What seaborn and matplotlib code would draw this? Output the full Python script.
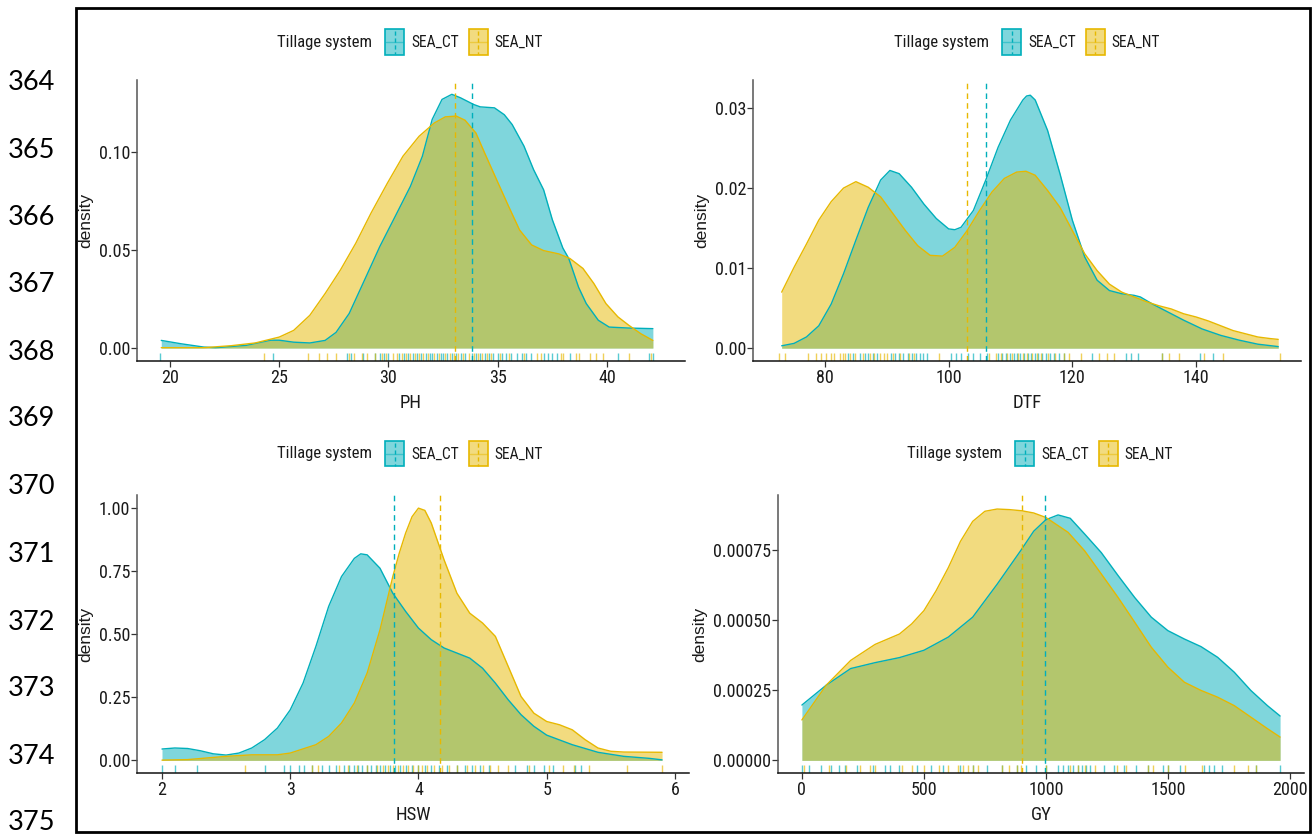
import numpy as np
import pandas as pd
import matplotlib
matplotlib.use("Agg")
import matplotlib.pyplot as plt
import seaborn as sns
from matplotlib.patches import Rectangle
from matplotlib.lines import Line2D
from matplotlib import font_manager as fm

# ------------------------------------------------------------------ data
GROUPS = ["SEA_CT", "SEA_NT"]
LEGEND_TITLE = "Tillage system"
LINE_NUMBERS = ["364", "365", "366", "367", "368", "369", "370", "371", "372", "373", "374", "375"]

# PH
PH_X_CT = [19.6, 20.5, 21.55, 22.1, 23.5, 24.6, 25.0, 25.66, 26.4, 27.1, 27.6, 28.2, 28.9, 29.6, 30.3, 31.0,
           31.55, 32.0, 32.45, 32.9, 33.3, 33.9, 34.2, 34.85, 35.3, 35.66, 36.2, 36.64, 37.1, 37.5, 37.98,
           38.25, 38.7, 39.05, 39.6, 40.1, 41.0, 42.1]
PH_Y_CT = [0.0039, 0.0022, 0.0005, 0.0002, 0.0014, 0.0040, 0.0040, 0.0030, 0.0026, 0.0039, 0.0080, 0.0176,
           0.0346, 0.0517, 0.0670, 0.0824, 0.0978, 0.1166, 0.1268, 0.1294, 0.1276, 0.1242, 0.1230, 0.1225,
           0.1190, 0.1140, 0.1030, 0.0910, 0.0807, 0.0654, 0.0510, 0.0457, 0.0310, 0.0227, 0.0142, 0.0107,
           0.0102, 0.0099]
PH_X_NT = [19.6, 21.55, 22.8, 23.9, 25.0, 25.66, 26.4, 27.1, 27.8, 28.5, 29.2, 29.95, 30.66, 31.4, 32.1,
           32.6, 33.1, 33.5, 34.0, 34.4, 34.95, 35.5, 36.0, 36.55, 37.1, 37.8, 38.3, 38.9, 39.4, 39.95, 40.5,
           41.0, 41.55, 42.1]
PH_Y_NT = [0.0002, 0.0002, 0.0012, 0.0026, 0.0056, 0.0090, 0.0167, 0.0278, 0.0398, 0.0534, 0.0688, 0.0841,
           0.0978, 0.1080, 0.1148, 0.1179, 0.1183, 0.1162, 0.1097, 0.0995, 0.0858, 0.0722, 0.0602, 0.0526,
           0.0497, 0.0480, 0.0457, 0.0406, 0.0329, 0.0227, 0.0159, 0.0116, 0.0073, 0.0039]
PH_MEAN = [33.82, 33.04]
PH_RUG_CT = [19.55, 24.7, 28.1, 28.3, 28.85, 29.4, 29.6, 29.8, 30.0, 30.5, 30.7, 30.9, 31.1, 31.3, 31.5, 31.7,
             31.9, 32.0, 32.2, 32.4, 32.5, 32.7, 32.9, 33.1, 33.3, 33.5, 33.8, 34.0, 34.2, 34.4, 34.6, 34.8,
             35.0, 35.2, 35.4, 35.6, 35.9, 36.1, 36.3, 36.5, 37.1, 37.3, 37.5, 37.7, 38.3, 40.5, 41.9, 42.1]
PH_RUG_NT = [24.3, 26.3, 26.8, 27.2, 27.6, 28.2, 28.4, 28.8, 29.0, 29.4, 29.7, 29.9, 30.2, 30.4, 30.6, 30.8,
             31.0, 31.2, 31.4, 31.6, 31.8, 32.1, 32.3, 32.6, 32.8, 33.0, 33.2, 33.4, 33.7, 33.9, 34.1, 34.3,
             34.5, 34.7, 35.1, 35.5, 36.2, 36.8, 37.0, 37.9, 38.0, 38.6, 38.7, 39.2, 39.5, 39.8, 41.0, 42.0]
PH_XTICKS = [20, 25, 30, 35, 40]
PH_YTICKS = [0.00, 0.05, 0.10]
PH_YTICKLABELS = ["0.00", "0.05", "0.10"]

# DTF
DTF_X_CT = [73, 75, 77, 79, 81, 83, 85, 87, 89, 90.5, 92, 94, 96, 98, 100, 101, 102, 104, 106, 108, 110, 112,
            112.6, 113.2, 114, 116, 118, 120, 122, 124, 126, 128, 130, 131, 133, 135, 138, 141, 144, 147, 150,
            153.3]
DTF_Y_CT = [0.0003, 0.0006, 0.0014, 0.0028, 0.0055, 0.0093, 0.0135, 0.0176, 0.0210, 0.0222, 0.0218, 0.0201,
            0.0180, 0.0162, 0.0149, 0.0148, 0.0151, 0.0172, 0.0210, 0.0251, 0.0285, 0.0310, 0.0315, 0.0316,
            0.0310, 0.0272, 0.0218, 0.0160, 0.0114, 0.0085, 0.0072, 0.0068, 0.0066, 0.0064, 0.0055, 0.0047,
            0.0035, 0.0024, 0.0016, 0.0010, 0.0005, 0.0002]
DTF_X_NT = [73, 75, 77, 79, 81, 83, 85, 87, 89, 91, 93, 95, 97, 99, 101, 103, 105, 107, 109, 111, 112.5, 114,
            116, 118, 120, 122, 124, 126, 128, 130, 132, 134, 136, 138, 140, 142, 144, 146, 148, 150, 152,
            153.3]
DTF_Y_NT = [0.0070, 0.0101, 0.0130, 0.0160, 0.0183, 0.0200, 0.0208, 0.0201, 0.0189, 0.0168, 0.0147, 0.0128,
            0.0116, 0.0115, 0.0126, 0.0147, 0.0172, 0.0195, 0.0212, 0.0220, 0.0221, 0.0216, 0.0197, 0.0176,
            0.0147, 0.0118, 0.0097, 0.0080, 0.0070, 0.0064, 0.0058, 0.0053, 0.0049, 0.0043, 0.0039, 0.0034,
            0.0028, 0.0022, 0.0018, 0.0014, 0.0012, 0.0011]
DTF_MEAN = [106.1, 102.9]
DTF_RUG_CT = [83.7, 84.5, 85.6, 86.4, 87.0, 87.8, 88.4, 90.6, 91.3, 92.0, 92.6, 93.4, 94.0, 94.8, 95.3, 95.8,
              96.5, 100.4, 101.2, 102.0, 103.2, 104.0, 105.1, 106.2, 108.0, 108.6, 109.3, 109.9, 110.5, 111.0,
              111.6, 112.2, 112.8, 113.3, 113.9, 114.5, 115.1, 115.8, 116.4, 117.0, 117.8, 118.6, 123.2, 128.7,
              129.5, 130.6, 134.5, 140.6, 142.7]
DTF_RUG_NT = [72.5, 73.6, 77.3, 78.5, 79.3, 80.2, 81.0, 81.5, 82.4, 82.9, 83.3, 84.0, 84.8, 86.2, 87.3, 88.0,
              88.9, 89.5, 90.0, 91.0, 92.2, 93.6, 94.4, 98.5, 106.5, 107.6, 108.4, 109.5, 110.3, 111.2, 112.0,
              112.6, 113.5, 114.3, 115.0, 116.0, 117.2, 118.6, 119.5, 121.4, 124.3, 125.6, 126.8, 134.5, 135.6,
              137.3, 141.3, 144.3, 153.6]
DTF_XTICKS = [80, 100, 120, 140]
DTF_YTICKS = [0.00, 0.01, 0.02, 0.03]
DTF_YTICKLABELS = ["0.00", "0.01", "0.02", "0.03"]

# HSW
HSW_X_CT = [2.0, 2.1, 2.2, 2.3, 2.4, 2.5, 2.6, 2.7, 2.8, 2.9, 3.0, 3.1, 3.2, 3.3, 3.4, 3.5, 3.55, 3.6, 3.7, 3.8,
            3.9, 4.0, 4.1, 4.2, 4.3, 4.4, 4.5, 4.6, 4.7, 4.8, 4.9, 5.0, 5.2, 5.4, 5.6, 5.8, 5.9]
HSW_Y_CT = [0.045, 0.049, 0.047, 0.038, 0.026, 0.021, 0.029, 0.049, 0.082, 0.128, 0.200, 0.306, 0.451, 0.610,
            0.728, 0.800, 0.818, 0.814, 0.761, 0.662, 0.590, 0.524, 0.478, 0.445, 0.425, 0.405, 0.365, 0.306,
            0.240, 0.181, 0.135, 0.100, 0.062, 0.032, 0.016, 0.008, 0.002]
HSW_X_NT = [2.0, 2.2, 2.5, 2.7, 2.9, 3.0, 3.2, 3.3, 3.4, 3.5, 3.6, 3.7, 3.8, 3.85, 3.9, 3.95, 4.0, 4.05, 4.1,
            4.2, 4.3, 4.4, 4.5, 4.6, 4.7, 4.8, 4.9, 5.0, 5.1, 5.2, 5.3, 5.4, 5.5, 5.6, 5.9]
HSW_Y_NT = [0.001, 0.003, 0.016, 0.022, 0.022, 0.029, 0.062, 0.095, 0.148, 0.227, 0.346, 0.517, 0.728, 0.820,
            0.900, 0.965, 0.999, 0.990, 0.940, 0.794, 0.662, 0.583, 0.544, 0.491, 0.372, 0.253, 0.187, 0.154,
            0.141, 0.121, 0.082, 0.049, 0.036, 0.033, 0.032]
HSW_MEAN = [3.81, 4.17]
HSW_RUG_CT = [2.0, 2.1, 2.27, 2.8, 2.95, 3.0, 3.07, 3.11, 3.17, 3.25, 3.3, 3.36, 3.42, 3.46, 3.5, 3.53, 3.56,
              3.6, 3.63, 3.67, 3.7, 3.74, 3.78, 3.82, 3.86, 3.9, 3.95, 4.0, 4.05, 4.1, 4.16, 4.22, 4.3, 4.36,
              4.42, 4.48, 4.55, 4.75, 4.85, 4.9, 4.98, 5.05, 5.22, 5.27]
HSW_RUG_NT = [2.65, 3.17, 3.22, 3.38, 3.45, 3.52, 3.6, 3.68, 3.72, 3.76, 3.8, 3.84, 3.88, 3.92, 3.96, 4.0,
              4.03, 4.07, 4.12, 4.18, 4.24, 4.3, 4.38, 4.44, 4.5, 4.56, 4.62, 4.7, 4.86, 5.02, 5.13, 5.21,
              5.33, 5.63, 5.9]
HSW_XTICKS = [2, 3, 4, 5, 6]
HSW_YTICKS = [0.00, 0.25, 0.50, 0.75, 1.00]
HSW_YTICKLABELS = ["0.00", "0.25", "0.50", "0.75", "1.00"]

# GY
GY_X_CT = [0, 100, 200, 300, 400, 500, 600, 700, 800, 900, 950, 1000, 1050, 1100, 1159, 1227, 1296, 1364,
           1432, 1500, 1568, 1636, 1704, 1772, 1840, 1908, 1960]
GY_Y_CT = [0.000197, 0.000268, 0.000327, 0.000348, 0.000366, 0.000392, 0.000439, 0.000510, 0.000627,
           0.000751, 0.000816, 0.000857, 0.000874, 0.000862, 0.000806, 0.000740, 0.000658, 0.000580,
           0.000510, 0.000462, 0.000432, 0.000405, 0.000367, 0.000314, 0.000249, 0.000195, 0.000158]
GY_X_NT = [0, 100, 200, 300, 400, 450, 500, 550, 600, 650, 700, 750, 800, 850, 900, 950, 1000, 1091, 1159,
           1227, 1296, 1364, 1432, 1500, 1568, 1636, 1704, 1772, 1840, 1908, 1960]
GY_Y_NT = [0.000144, 0.000268, 0.000356, 0.000413, 0.000450, 0.000486, 0.000533, 0.000604, 0.000686,
           0.000780, 0.000851, 0.000887, 0.000895, 0.000893, 0.000889, 0.000881, 0.000865, 0.000812,
           0.000746, 0.000664, 0.000580, 0.000492, 0.000403, 0.000332, 0.000278, 0.000249, 0.000225,
           0.000195, 0.000154, 0.000113, 0.000083]
GY_MEAN = [995, 903]
GY_RUG_CT = [0, 30, 80, 120, 150, 175, 225, 290, 340, 360, 400, 470, 530, 580, 650, 700, 760, 820, 880, 920,
             960, 1000, 1050, 1070, 1090, 1110, 1130, 1150, 1165, 1180, 1240, 1280, 1320, 1370, 1420, 1480,
             1500, 1550, 1650, 1670, 1690, 1720, 1860, 1960]
GY_RUG_NT = [10, 110, 180, 240, 280, 300, 410, 450, 500, 560, 600, 640, 660, 680, 700, 720, 820, 850, 880,
             900, 1000, 1100, 1130, 1160, 1200, 1290, 1330, 1420, 1440, 1500, 1570, 1640, 1770, 1830, 1860]
GY_XTICKS = [0, 500, 1000, 1500, 2000]
GY_YTICKS = [0.0, 0.00025, 0.00050, 0.00075]
GY_YTICKLABELS = ["0.00000", "0.00025", "0.00050", "0.00075"]

# ------------------------------------------------------------------ style
CT_COL = "#00AFBB"
NT_COL = "#E7B800"
COLORS = [CT_COL, NT_COL]

sns.set_theme(style="white")
plt.rcParams["font.family"] = ["Liberation Sans", "DejaVu Sans"]


def find_narrow_font():
    entries = fm.fontManager.ttflist
    for name in ["Liberation Sans Narrow", "Arial Narrow", "Roboto Condensed", "Open Sans Condensed",
                 "Noto Sans Condensed", "DejaVu Sans Condensed"]:
        for e in entries:
            if e.name == name and e.style == "normal" and str(e.weight) in ("400", "normal", "regular", "book"):
                return e.fname
    for fam in ["Liberation Sans", "Roboto", "Noto Sans", "Open Sans", "DejaVu Sans", "Inter", "Lato"]:
        for e in entries:
            if (e.name == fam and str(e.stretch) in ("condensed", "semi-condensed")
                    and e.style == "normal" and str(e.weight) in ("400", "normal", "regular", "book")):
                return e.fname
    return None


NARROW_PATH = find_narrow_font()
NARROW_SCALE = 1.0 if NARROW_PATH else 0.88


def nfont(size):
    if NARROW_PATH:
        return fm.FontProperties(fname=NARROW_PATH, size=size)
    return fm.FontProperties(family=["Liberation Sans", "DejaVu Sans"], size=size * NARROW_SCALE)


W, H = 1313, 834
fig = plt.figure(figsize=(W / 100, H / 100), dpi=100)
fig.patch.set_facecolor("white")
renderer = fig.canvas.get_renderer()


def fx(x):
    return x / W


def fy(y):
    return 1 - y / H


def text_w(t):
    return t.get_window_extent(renderer).width


def draw_legend(center, yc):
    kw, kh = 19, 25
    title = fig.text(0, fy(yc), LEGEND_TITLE, fontproperties=nfont(12), ha="left", va="center",
                     color="#1a1a1a")
    labs = [fig.text(0, fy(yc), g, fontproperties=nfont(11.2), ha="left", va="center", color="#1a1a1a")
            for g in GROUPS]
    tw = text_w(title)
    lw_ = [text_w(t) for t in labs]
    total = tw + 13 + kw + 7 + lw_[0] + 10 + kw + 7 + lw_[1]
    x = center - total / 2
    title.set_x(fx(x))
    x += tw + 13
    for i, (col, lab) in enumerate(zip(COLORS, labs)):
        kx = x
        fig.add_artist(Rectangle((fx(kx), fy(yc + kh / 2)), kw / W, kh / H, transform=fig.transFigure,
                                 facecolor=col, alpha=0.5, edgecolor="none"))
        fig.add_artist(Rectangle((fx(kx), fy(yc + kh / 2)), kw / W, kh / H, transform=fig.transFigure,
                                 facecolor="none", edgecolor=col, lw=1.2))
        fig.add_artist(Line2D([fx(kx + kw / 2)] * 2, [fy(yc - kh / 2 + 1), fy(yc + kh / 2 - 1)],
                              transform=fig.transFigure, color=col, lw=1, ls=(0, (3, 2))))
        fig.add_artist(Line2D([fx(kx + 1), fx(kx + kw - 1)], [fy(yc)] * 2,
                              transform=fig.transFigure, color=col, lw=1, alpha=0.5))
        x += kw + 7
        lab.set_x(fx(x))
        x += lw_[i] + 10


def panel(box, xct, yct, xnt, ynt, rug_ct, rug_nt, means, xlim, ylim, xticks, yticks, yticklabels,
          xlabel, legend_center, legend_y):
    l, t, r, b = box
    ax = fig.add_axes([fx(l), fy(b), (r - l) / W, (b - t) / H])
    ax.set_facecolor("white")
    for xs, ys, col in [(xct, yct, CT_COL), (xnt, ynt, NT_COL)]:
        ax.fill_between(xs, ys, 0, color=col, alpha=0.5, lw=0)
        sns.lineplot(x=xs, y=ys, ax=ax, color=col, lw=1.0, estimator=None)
    sns.rugplot(x=rug_ct, ax=ax, height=0.03, color=CT_COL, alpha=0.65, lw=1.3, expand_margins=False)
    sns.rugplot(x=rug_nt, ax=ax, height=0.03, color=NT_COL, alpha=0.65, lw=1.3, expand_margins=False)
    for m, col in zip(means, COLORS):
        ax.axvline(m, color=col, lw=1.0, ls=(0, (4, 3)))
    ax.set_xlim(*xlim)
    ax.set_ylim(*ylim)
    ax.set_xticks(xticks)
    ax.set_xticklabels([str(v) for v in xticks])
    ax.set_yticks(yticks)
    ax.set_yticklabels(yticklabels)
    for s in ["top", "right"]:
        ax.spines[s].set_visible(False)
    ax.spines["left"].set_color("#555555")
    ax.spines["bottom"].set_color("#111111")
    ax.spines["left"].set_linewidth(1.1)
    ax.spines["bottom"].set_linewidth(1.1)
    ax.tick_params(bottom=True, left=True, direction="out", length=4, width=0.9, colors="#333333",
                   labelcolor="#1a1a1a")
    ax.tick_params(axis="y", pad=0.8)
    ax.tick_params(axis="x", pad=2.0)
    for lab in ax.get_xticklabels() + ax.get_yticklabels():
        lab.set_fontproperties(nfont(13))
    ax.set_xlabel(xlabel, fontproperties=nfont(13.5), color="#1a1a1a", labelpad=5)
    ax.set_ylabel("density", fontsize=12.5, family=["Liberation Sans", "DejaVu Sans"], color="#1a1a1a",
                  labelpad=4)
    ax.grid(False)
    draw_legend(legend_center, legend_y)
    return ax


panel((137, 80, 685, 361), PH_X_CT, PH_Y_CT, PH_X_NT, PH_Y_NT, PH_RUG_CT, PH_RUG_NT, PH_MEAN,
      (18.49, 43.57), (-0.0066, 0.1367), PH_XTICKS, PH_YTICKS, PH_YTICKLABELS, "PH", 410, 42)
panel((753, 80, 1301, 361), DTF_X_CT, DTF_Y_CT, DTF_X_NT, DTF_Y_NT, DTF_RUG_CT, DTF_RUG_NT, DTF_MEAN,
      (68.36, 156.98), (-0.0016, 0.0335), DTF_XTICKS, DTF_YTICKS, DTF_YTICKLABELS, "DTF", 1027, 42)
panel((137, 495, 689, 773), HSW_X_CT, HSW_Y_CT, HSW_X_NT, HSW_Y_NT, HSW_RUG_CT, HSW_RUG_NT, HSW_MEAN,
      (1.805, 6.11), (-0.05, 1.051), HSW_XTICKS, HSW_YTICKS, HSW_YTICKLABELS, "HSW", 410, 454)
panel((778, 495, 1304, 773), GY_X_CT, GY_Y_CT, GY_X_NT, GY_Y_NT, GY_RUG_CT, GY_RUG_NT, GY_MEAN,
      (-98, 2058), (-0.000045, 0.000945), GY_XTICKS, GY_YTICKS, GY_YTICKLABELS, "GY", 1040, 454)

# document line numbers
line_y = [83, 150, 218, 285, 352, 419, 487, 555, 622, 688, 757, 823]
for txt, yy in zip(LINE_NUMBERS, line_y):
    fig.text(fx(8), fy(yy), txt, fontsize=19.5, family=["Lato", "DejaVu Sans"], ha="left", va="center",
             color="black")

# outer frame
fig.add_artist(Rectangle((fx(76), fy(832)), (1310 - 76) / W, (832 - 8) / H, transform=fig.transFigure,
                         fill=False, edgecolor="black", lw=2))

fig.savefig("out.png", dpi=100, facecolor="white")
